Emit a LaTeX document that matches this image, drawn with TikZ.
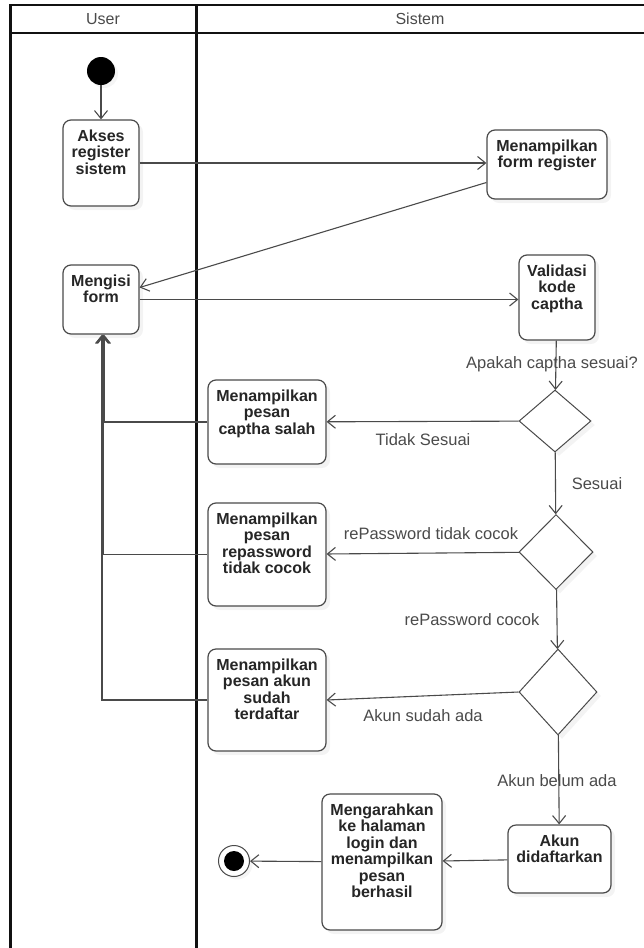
\documentclass[tikz,border=0pt]{standalone}
\usepackage{fontspec}
\setmainfont{Liberation Sans}
\usetikzlibrary{arrows.meta,shapes.geometric,shadows}

\definecolor{laneline}{HTML}{111111}
\definecolor{edgegray}{HTML}{4A4A4A}
\definecolor{textdark}{HTML}{262626}

\tikzset{
  act/.style={draw=edgegray, line width=1.2pt, rounded corners=8pt, fill=white,
    drop shadow={shadow xshift=4pt, shadow yshift=-4pt, fill=black!9}},
  acttext/.style={anchor=north, yshift=-10pt, align=center, text=textdark,
    inner sep=0pt, font=\fontsize{16}{16.5}\selectfont\bfseries},
  decide/.style={diamond, draw=edgegray, line width=1pt, fill=white, inner sep=0pt,
    drop shadow={shadow xshift=4pt, shadow yshift=-4pt, fill=black!9}},
  flow/.style={draw=edgegray, line width=1.1pt,
    -{Straight Barb[length=8pt,width=13pt,line width=1.1pt]}},
  lbl/.style={text=edgegray, inner sep=0pt, font=\fontsize{16.5}{18}\selectfont},
  head/.style={text=edgegray, inner sep=0pt, font=\fontsize{16}{18}\selectfont}
}

\begin{document}
\begin{tikzpicture}[x=1pt, y=-1pt]
  \useasboundingbox (0,0) rectangle (644,948);

  % swimlanes
  \draw[laneline, line width=2pt] (10,5) -- (644,5);
  \draw[laneline, line width=2pt] (10,33) -- (644,33);
  \draw[laneline, line width=3pt] (10,4) -- (10,948);
  \draw[laneline, line width=3pt] (196,4) -- (196,948);
  \node[head] (user) at (103,19) {User};
  \node[head] (sistem) at (420,19) {Sistem};

  % activities
  \node[circle, fill=black, minimum size=28pt, inner sep=0pt,
    drop shadow={shadow xshift=3pt, shadow yshift=-3pt, fill=black!8}] (start) at (101,71) {};
  \node[act, minimum width=76pt, minimum height=86pt,
    label={[acttext]north:Akses\\register\\sistem}] (akses) at (101,163) {};
  \node[act, minimum width=120pt, minimum height=69pt,
    label={[acttext]north:Menampilkan\\form register}] (menform) at (547,164.5) {};
  \node[act, minimum width=76pt, minimum height=69pt,
    label={[acttext]north:Mengisi\\form}] (mengisi) at (101,299.5) {};
  \node[act, minimum width=76pt, minimum height=85pt,
    label={[acttext]north:Validasi\\kode\\captha}] (validasi) at (557,297.5) {};

  \node[decide, minimum width=72pt, minimum height=62pt] (cekcaptha) at (555,421) {};
  \node[act, minimum width=118pt, minimum height=84pt,
    label={[acttext]north:Menampilkan\\pesan\\captha salah}] (captha) at (267,422) {};

  \node[decide, minimum width=74pt, minimum height=75pt] (cekpass) at (556,552) {};
  \node[act, minimum width=118pt, minimum height=103pt,
    label={[acttext]north:Menampilkan\\pesan\\repassword\\tidak cocok}] (repass) at (267,554.5) {};

  \node[decide, minimum width=78pt, minimum height=86pt] (cekakun) at (558,692) {};
  \node[act, minimum width=118pt, minimum height=102pt,
    label={[acttext]north:Menampilkan\\pesan akun\\sudah\\terdaftar}] (sudah) at (267,700) {};

  \node[act, minimum width=103pt, minimum height=68pt,
    label={[acttext]north:Akun\\didaftarkan}] (daftar) at (559.5,859) {};
  \node[act, minimum width=120pt, minimum height=136pt,
    label={[acttext]north:Mengarahkan\\ke halaman\\login dan\\menampilkan\\pesan\\berhasil}] (arah) at (382,862) {};
  \node[circle, draw=edgegray, line width=1pt, fill=white, minimum size=31pt, inner sep=0pt,
    path picture={\fill[black] (path picture bounding box.center) circle (10pt);},
    drop shadow={shadow xshift=3pt, shadow yshift=-3pt, fill=black!8}] (stop) at (234,861) {};

  % flows
  \draw[flow] (start) -- (akses);
  \draw[flow] (akses.east) -- (akses.east -| menform.west);
  \draw[flow] ([yshift=-18pt]menform.west) -- ([yshift=12pt]mengisi.east);
  \draw[flow] (mengisi.east) -- (mengisi.east -| validasi.west);
  \draw[flow] (validasi) -- (cekcaptha);
  \draw[flow] (cekcaptha) -- (captha);
  \draw[flow] (cekcaptha) -- (cekpass);
  \draw[flow] (cekpass) -- (repass);
  \draw[flow] (cekpass) -- (cekakun);
  \draw[flow] (cekakun.west) -- (sudah.east);
  \draw[flow] (cekakun) -- (daftar);
  \draw[flow] (daftar) -- (arah);
  \draw[flow] (arah) -- (stop);

  % back to the form
  \draw[flow] (captha.west) -| ([xshift=3pt]mengisi.south);
  \draw[flow] (repass.west) -| ([xshift=2pt]mengisi.south);
  \draw[flow] (sudah.west) -| ([xshift=1pt]mengisi.south);

  % guards
  \node[lbl] at (552,364) {Apakah captha sesuai?};
  \node[lbl] at (423,440) {Tidak Sesuai};
  \node[lbl] at (597,484) {Sesuai};
  \node[lbl] at (431,534) {rePassword tidak cocok};
  \node[lbl] at (472,620) {rePassword cocok};
  \node[lbl] at (423,716) {Akun sudah ada};
  \node[lbl] at (557,781) {Akun belum ada};
\end{tikzpicture}
\end{document}
